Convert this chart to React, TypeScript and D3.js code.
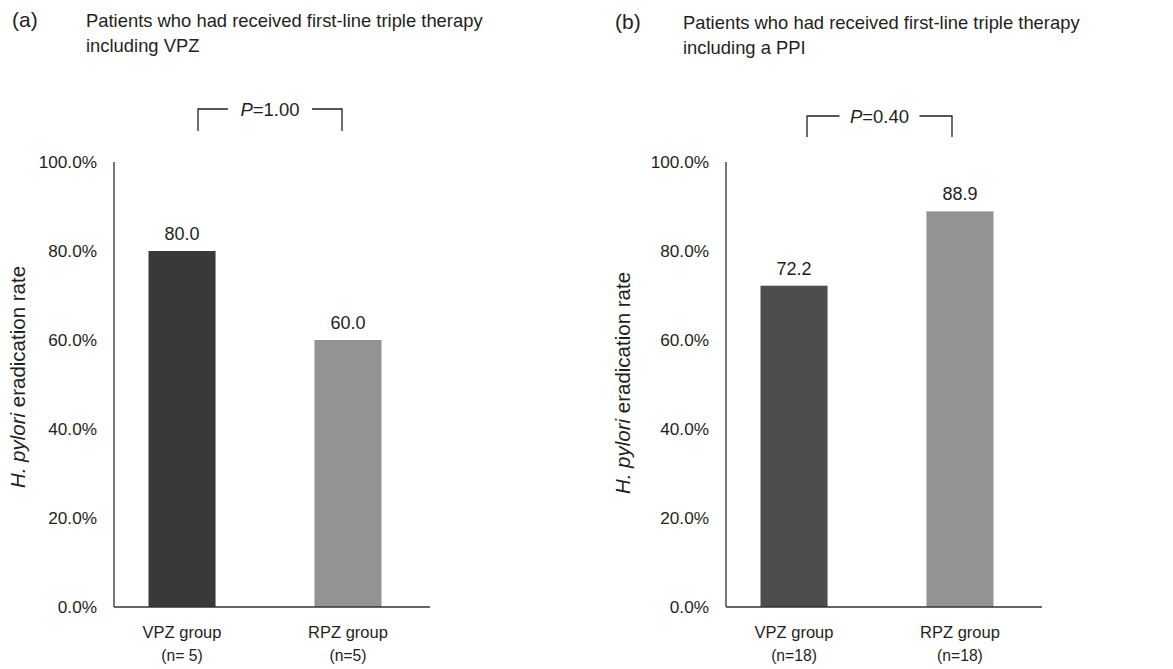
import React from "react";
import * as d3 from "d3";

const groups = ["VPZ group", "RPZ group"];
const ratesA = [80.0, 60.0];
const ratesB = [72.2, 88.9];
const nA = ["(n= 5)", "(n=5)"];
const nB = ["(n=18)", "(n=18)"];
const yTicks = [0, 20, 40, 60, 80, 100];
const pA = "1.00";
const pB = "0.40";

const FONT = "'Liberation Sans', Arial, sans-serif";

type PanelProps = {
  left: number;
  letter: string;
  title: string[];
  rates: number[];
  ns: string[];
  colors: string[];
  pValue: string;
  letterDx: number;
  titleDx: number;
  titleY: number;
  bracket: { x0: number; x1: number; top: number; bottom: number; gap: number };
  yTitleDx: number;
  yTitleY: number;
};

const Panel = ({ left, letter, title, rates, ns, colors, pValue, letterDx, titleDx, titleY, bracket, yTitleDx, yTitleY }: PanelProps) => {
  const axisW = 316;
  const x = d3.scaleBand<string>().domain(groups).range([left, left + 302]).paddingInner(0.596).paddingOuter(0.208);
  const y = d3.scaleLinear().domain([0, 100]).range([607, 162]);
  const cx = (g: string) => (x(g) as number) + x.bandwidth() / 2;
  const bmid = left + (bracket.x0 + bracket.x1) / 2;

  return (
    <g fontFamily={FONT} fill="#231f20">
      <text x={left + letterDx} y={titleY} fontSize={21}>{letter}</text>
      {title.map((t, i) => (
        <text key={i} x={left + titleDx} y={titleY + i * 25} fontSize={18.4}>{t}</text>
      ))}

      {/* P bracket */}
      <path
        d={`M${left + bracket.x0},${bracket.bottom}V${bracket.top}H${bmid - bracket.gap}M${bmid + bracket.gap},${bracket.top}H${left + bracket.x1}V${bracket.bottom}`}
        fill="none" stroke="#231f20" strokeWidth={1.3}
      />
      <text x={bmid} y={bracket.top + 6.5} textAnchor="middle" fontSize={18.5}>
        <tspan fontStyle="italic">P</tspan>={pValue}
      </text>

      {/* bars */}
      {groups.map((g, i) => (
        <g key={g}>
          <rect x={x(g)} y={y(rates[i])} width={x.bandwidth()} height={y(0) - y(rates[i])} fill={colors[i]} />
          <text x={cx(g)} y={y(rates[i]) - 11} textAnchor="middle" fontSize={18}>{rates[i].toFixed(1)}</text>
          <text x={cx(g)} y={638} textAnchor="middle" fontSize={16.5}>{g}</text>
          <text x={cx(g)} y={661} textAnchor="middle" fontSize={15.7}>{ns[i]}</text>
        </g>
      ))}

      {/* axes */}
      <line x1={left} x2={left} y1={y(100)} y2={y(0)} stroke="#4a4a4a" strokeWidth={1.5} />
      <line x1={left} x2={left + axisW} y1={y(0)} y2={y(0)} stroke="#333" strokeWidth={1.5} />
      {yTicks.map((t) => (
        <text key={t} x={left - 17} y={y(t) + 6} textAnchor="end" fontSize={17.2}>{t.toFixed(1)}%</text>
      ))}

      <text transform={`translate(${left + yTitleDx},${yTitleY}) rotate(-90)`} textAnchor="middle" fontSize={20.5}>
        <tspan fontStyle="italic">H. pylori</tspan> eradication rate
      </text>
    </g>
  );
};

export default function App() {
  return (
    <svg width={1173} height={669} style={{ position: "absolute", left: 0, top: 0, background: "#fff" }}>
      <Panel
        left={114}
        letter="(a)"
        title={["Patients who had received first-line triple therapy", "including VPZ"]}
        rates={ratesA}
        ns={nA}
        colors={["#3a3937", "#939396"]}
        pValue={pA}
        letterDx={-102}
        titleDx={-28}
        titleY={27}
        bracket={{ x0: 84, x1: 228, top: 109, bottom: 131, gap: 42 }}
        yTitleDx={-89}
        yTitleY={377}
      />
      <Panel
        left={726}
        letter="(b)"
        title={["Patients who had received first-line triple therapy", "including a PPI"]}
        rates={ratesB}
        ns={nB}
        colors={["#4d4d4f", "#939396"]}
        pValue={pB}
        letterDx={-111}
        titleDx={-43}
        titleY={29}
        bracket={{ x0: 81, x1: 226, top: 116, bottom: 137, gap: 40 }}
        yTitleDx={-96}
        yTitleY={383}
      />
    </svg>
  );
}
